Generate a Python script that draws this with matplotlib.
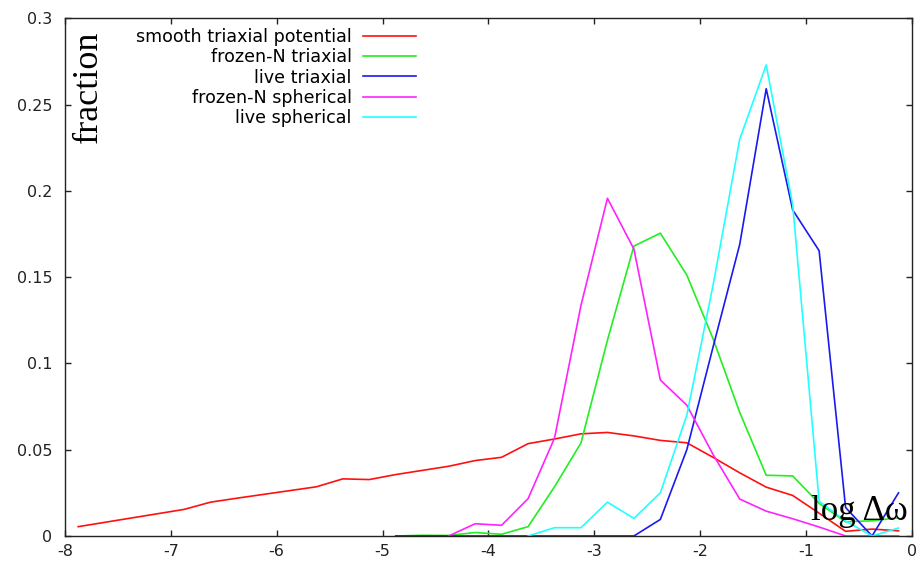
import matplotlib
matplotlib.use("Agg")
import matplotlib.pyplot as plt
from matplotlib.ticker import FixedLocator, FixedFormatter

plt.rcParams['axes.unicode_minus'] = False
plt.rcParams['font.family'] = ['DejaVu Sans']

# bin centres in log(delta omega)
log_dw = [-7.875, -7.625, -7.375, -7.125, -6.875, -6.625, -6.375, -6.125,
          -5.875, -5.625, -5.375, -5.125, -4.875, -4.625, -4.375, -4.125,
          -3.875, -3.625, -3.375, -3.125, -2.875, -2.625, -2.375, -2.125,
          -1.875, -1.625, -1.375, -1.125, -0.875, -0.625, -0.375, -0.125]

smooth_triaxial = [0.0054, 0.0079, 0.0104, 0.0129, 0.0154, 0.0196, 0.0219, 0.0241,
                   0.0263, 0.0285, 0.0331, 0.0327, 0.0356, 0.0380, 0.0404, 0.0437,
                   0.0456, 0.0535, 0.0562, 0.0592, 0.0600, 0.0580, 0.0554, 0.0540,
                   0.0455, 0.0366, 0.0283, 0.0235, 0.0132, 0.0027, 0.0040, 0.0030]

# series below start at later bins (index into log_dw)
frozen_triaxial_start = 12
frozen_triaxial = [0.0, 0.0004, 0.0003, 0.0020, 0.0010, 0.0054, 0.0285, 0.0539,
                   0.1134, 0.1680, 0.1755, 0.1512, 0.1140, 0.0716, 0.0352, 0.0348,
                   0.0189, 0.0082, 0.0088, 0.0106]

live_triaxial_start = 12
live_triaxial = [0.0, 0.0, 0.0, 0.0, 0.0, 0.0, 0.0, 0.0, 0.0, 0.0,
                 0.0096, 0.0500, 0.1100, 0.1690, 0.2592, 0.1890, 0.1653, 0.0165,
                 0.0, 0.0250]

frozen_spherical_start = 14
frozen_spherical = [0.0, 0.0071, 0.0062, 0.0216, 0.0567, 0.1336, 0.1957, 0.1663,
                    0.0904, 0.0758, 0.0470, 0.0214, 0.0144, 0.0100, 0.0052, 0.0,
                    0.0, 0.0]

live_spherical_start = 17
live_spherical = [0.0, 0.0048, 0.0048, 0.0196, 0.0102, 0.0250, 0.0700, 0.1460,
                  0.2300, 0.2730, 0.1920, 0.0202, 0.0087, 0.0, 0.0046]

x_ticks = [-8, -7, -6, -5, -4, -3, -2, -1, 0]
x_tick_labels = ["-8", "-7", "-6", "-5", "-4", "-3", "-2", "-1", "0"]
y_ticks = [0, 0.05, 0.1, 0.15, 0.2, 0.25, 0.3]
y_tick_labels = ["0", "0.05", "0.1", "0.15", "0.2", "0.25", "0.3"]

series = [
    ("smooth triaxial potential", 0, smooth_triaxial, "#ff1010"),
    ("frozen-N triaxial", frozen_triaxial_start, frozen_triaxial, "#22ee22"),
    ("live triaxial", live_triaxial_start, live_triaxial, "#1a1aee"),
    ("frozen-N spherical", frozen_spherical_start, frozen_spherical, "#ff22ff"),
    ("live spherical", live_spherical_start, live_spherical, "#22ffff"),
]

fig = plt.figure(figsize=(9.23, 5.67), dpi=100)
ax = fig.add_axes([0.0704, 0.0547, 0.9174, 0.9130])

for label, start, vals, color in series:
    ax.plot(log_dw[start:start + len(vals)], vals, color=color, lw=1.2, label=label)

ax.set_xlim(-8, 0)
ax.set_ylim(0, 0.3)
ax.xaxis.set_major_locator(FixedLocator(x_ticks))
ax.xaxis.set_major_formatter(FixedFormatter(x_tick_labels))
ax.yaxis.set_major_locator(FixedLocator(y_ticks))
ax.yaxis.set_major_formatter(FixedFormatter(y_tick_labels))
ax.tick_params(axis='both', direction='in', length=4.5, width=1.0,
               top=True, right=True, labelsize=11.5, colors='#222222')
ax.tick_params(axis='x', pad=6)
ax.tick_params(axis='y', pad=9)
for s in ax.spines.values():
    s.set_linewidth(1.0)
    s.set_color('#222222')

ax.text(0.0083, 0.977, "fraction", rotation=90, ha='left', va='top',
        transform=ax.transAxes, fontsize=26, family=['Liberation Serif'])
ax.text(0.9956, 0.031, "log \u0394\u03c9", ha='right', va='baseline',
        transform=ax.transAxes, fontsize=25, family=['Liberation Serif'])

ax.legend(loc='upper right', bbox_to_anchor=(0.4146, 0.981), frameon=False,
          markerfirst=False, fontsize=12.6, handlelength=3.05,
          handletextpad=0.63, labelspacing=0.125, borderpad=0, borderaxespad=0)

fig.savefig("out.png", dpi=100)
